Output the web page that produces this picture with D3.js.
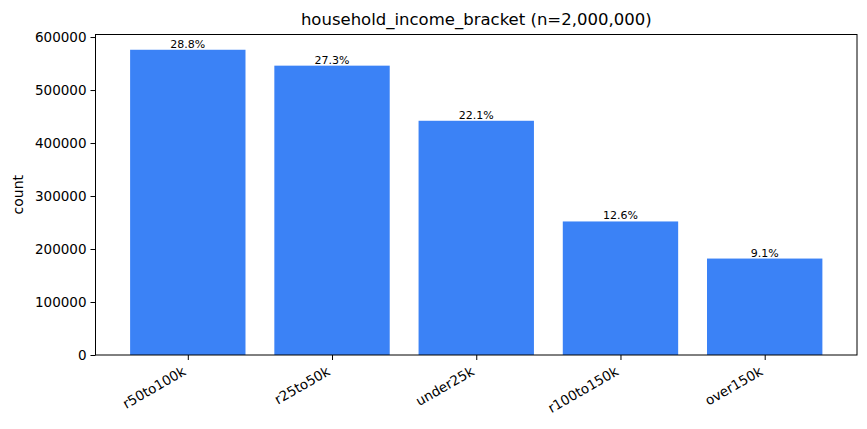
<!DOCTYPE html>
<html>
<head>
<meta charset="utf-8">
<script src="https://cdn.jsdelivr.net/npm/d3@7"></script>
<style>
  body { margin: 0; background: #fff; }
  text { font-family: "DejaVu Sans", sans-serif; fill: #000; }
</style>
</head>
<body>
<script>
var categories = ["r50to100k", "r25to50k", "under25k", "r100to150k", "over150k"];
var counts = [576000, 546000, 442000, 252000, 182000];
var pctLabels = ["28.8%", "27.3%", "22.1%", "12.6%", "9.1%"];
var yTicks = [0, 100000, 200000, 300000, 400000, 500000, 600000];
var total = 2000000;

var width = 867, height = 429;
var plotLeft = 95.5, plotRight = 857, plotTop = 34.5, plotBottom = 355;
var barColor = "#3b82f6";

var svg = d3.select("body").append("svg")
    .attr("width", width)
    .attr("height", height);

// matplotlib-like: bars width 0.8, 5% margins
var x = d3.scaleLinear()
    .domain([-0.64, categories.length - 1 + 0.64])
    .range([plotLeft, plotRight]);

var y = d3.scaleLinear()
    .domain([0, d3.max(counts) * 1.05])
    .range([plotBottom, plotTop]);

svg.selectAll("rect.bar")
    .data(counts)
    .join("rect")
    .attr("class", "bar")
    .attr("x", (d, i) => x(i - 0.4))
    .attr("width", (d, i) => x(i + 0.4) - x(i - 0.4))
    .attr("y", d => y(d))
    .attr("height", d => y(0) - y(d))
    .style("fill", barColor);

svg.selectAll("text.pct")
    .data(counts)
    .join("text")
    .attr("class", "pct")
    .attr("x", (d, i) => x(i))
    .attr("y", d => y(d) - 2)
    .attr("text-anchor", "middle")
    .style("font-size", "11px")
    .text((d, i) => pctLabels[i]);

// y axis
var yAxis = svg.append("g")
    .attr("transform", "translate(" + plotLeft + ",0)")
    .call(d3.axisLeft(y).tickValues(yTicks).tickFormat(d3.format("d")).tickSize(5).tickPadding(4));
yAxis.select(".domain").remove();
yAxis.selectAll("text").style("font-size", "13.5px").style("font-family", "DejaVu Sans");
yAxis.selectAll("line").attr("stroke", "#000");

// x axis
var xAxis = svg.append("g")
    .attr("transform", "translate(0," + plotBottom + ")")
    .call(d3.axisBottom(x).tickValues(d3.range(categories.length))
        .tickFormat(i => categories[i]).tickSize(5));
xAxis.select(".domain").remove();
xAxis.selectAll("line").attr("stroke", "#000");
xAxis.selectAll("text")
    .style("font-size", "13.5px")
    .style("font-family", "DejaVu Sans")
    .attr("text-anchor", "end")
    .attr("dy", null)
    .attr("y", 0)
    .attr("transform", "translate(-1.5,19) rotate(-30)");

// frame
svg.append("rect")
    .attr("x", plotLeft).attr("y", plotTop)
    .attr("width", plotRight - plotLeft).attr("height", plotBottom - plotTop)
    .attr("fill", "none").attr("stroke", "#000").attr("stroke-width", 1);

// title
svg.append("text")
    .attr("x", (plotLeft + plotRight) / 2)
    .attr("y", 25)
    .attr("text-anchor", "middle")
    .style("font-size", "16.5px")
    .text("household_income_bracket (n=" + d3.format(",")(total) + ")");

// y label
svg.append("text")
    .attr("transform", "translate(23," + ((plotTop + plotBottom) / 2) + ") rotate(-90)")
    .attr("text-anchor", "middle")
    .style("font-size", "14px")
    .text("count");
</script>
</body>
</html>
